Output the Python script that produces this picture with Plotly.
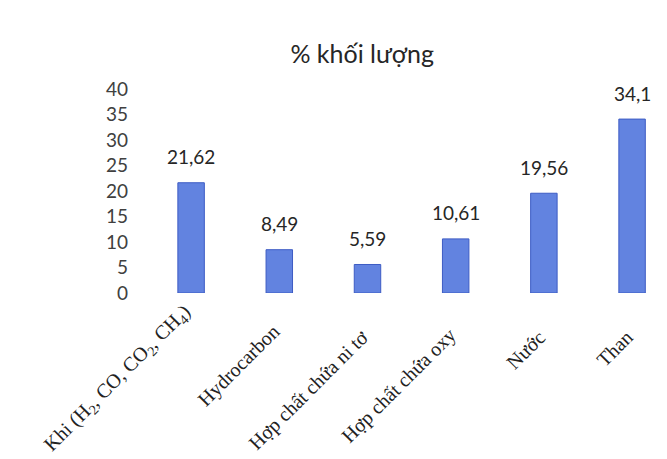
import plotly.graph_objects as go

# Mass fraction of pyrolysis products
categories = [
    "Khi (H<sub>2</sub>, CO, CO<sub>2</sub>, CH<sub>4</sub>)",
    "Hydrocarbon",
    "Hợp chất chứa ni tơ",
    "Hợp chất chứa oxy",
    "Nước",
    "Than",
]
values = [21.62, 8.49, 5.59, 10.61, 19.56, 34.1]
value_labels = ["21,62", "8,49", "5,59", "10,61", "19,56", "34,1"]
y_ticks = [0, 5, 10, 15, 20, 25, 30, 35, 40]

# vertical drop (px) of each rotated category label below the axis
label_drop = [4, 24, 30, 28, 30, 30]

sans = "Lato, Open Sans, sans-serif"

fig = go.Figure(
    go.Bar(
        x=list(range(len(categories))),
        y=values,
        width=0.3,
        marker=dict(color="#6283e0", line=dict(color="#3d5cc4", width=1)),
        hoverinfo="skip",
    )
)

for i, (v, lab) in enumerate(zip(values, value_labels)):
    fig.add_annotation(
        x=i, y=v, text=lab, showarrow=False, yshift=26,
        font=dict(family=sans, size=19, color="#262626"),
    )

for i, (cat, drop) in enumerate(zip(categories, label_drop)):
    fig.add_annotation(
        x=i, y=0, xref="x", yref="y", text=cat, showarrow=False,
        textangle=-45, xanchor="right", yanchor="top",
        xshift=8, yshift=-drop,
        font=dict(family="Liberation Serif, serif", size=20, color="#222222"),
    )

fig.update_layout(
    width=667,
    height=459,
    margin=dict(l=147, r=0, t=89, b=166),
    paper_bgcolor="white",
    plot_bgcolor="white",
    showlegend=False,
    title=dict(
        text="% khối lượng",
        x=0.543, xanchor="center", y=0.882, yanchor="middle",
        font=dict(family=sans, size=25, color="#262626"),
    ),
    xaxis=dict(
        range=[-0.5, 5.396],
        showticklabels=False,
        showline=False,
        showgrid=False,
        zeroline=False,
        ticks="",
    ),
    yaxis=dict(
        range=[0, 40],
        tickmode="array",
        tickvals=y_ticks,
        showgrid=False,
        zeroline=False,
        showline=False,
        ticks="",
        ticklabelstandoff=18,
        tickfont=dict(family=sans, size=19, color="#404040"),
    ),
)

fig.write_html("out.html")
